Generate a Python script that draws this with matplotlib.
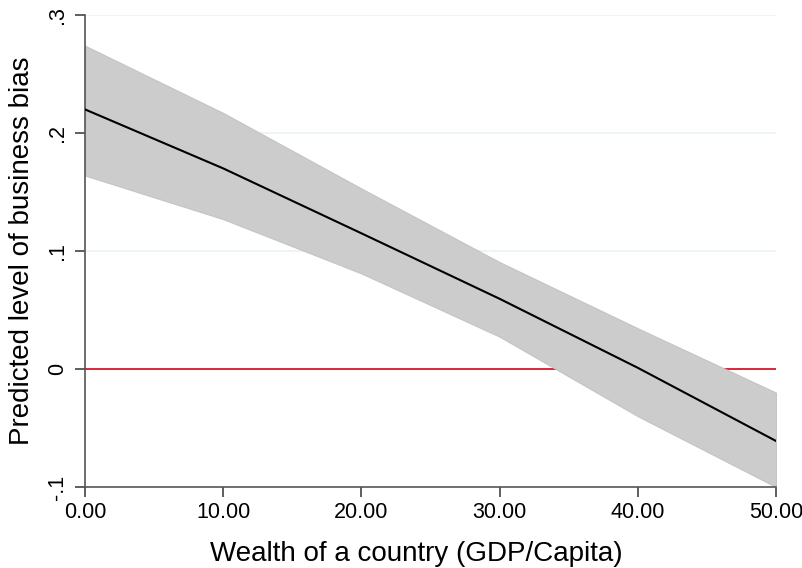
import matplotlib
matplotlib.use("Agg")
import matplotlib.pyplot as plt

plt.rcParams['font.family'] = ['Liberation Sans', 'DejaVu Sans']

# Predicted margins at GDP/capita values with 95% CI
gdp = [0, 10, 20, 30, 40, 50]
predicted = [0.220, 0.170, 0.115, 0.0595, 0.001, -0.061]
ci_upper = [0.274, 0.217, 0.153, 0.0906, 0.0345, -0.020]
ci_lower = [0.164, 0.127, 0.081, 0.0274, -0.040, -0.100]

x_ticks = [0, 10, 20, 30, 40, 50]
x_tick_labels = ["0.00", "10.00", "20.00", "30.00", "40.00", "50.00"]
y_ticks = [-0.1, 0, 0.1, 0.2, 0.3]
y_tick_labels = ["-.1", "0", ".1", ".2", ".3"]

fig = plt.figure(figsize=(8.03, 5.68), dpi=100)
ax = fig.add_axes([85 / 803, 1 - 487 / 568, (776 - 85) / 803, (487 - 15) / 568])

for yv in [0.1, 0.2, 0.3]:
    ax.axhline(yv, color="#eaf2f3", lw=1.2, zorder=0)

ax.axhline(0, color="#d62839", lw=1.4, zorder=1)
ax.fill_between(gdp, ci_lower, ci_upper, facecolor="#cccccc",
                edgecolor="#c4c4c4", lw=0.8, zorder=2)
ax.plot(gdp, predicted, color="black", lw=1.5, zorder=3)

ax.set_xlim(0, 50)
ax.set_ylim(-0.1, 0.3)
ax.set_xticks(x_ticks)
ax.set_xticklabels(x_tick_labels)
ax.set_yticks(y_ticks)
ax.set_yticklabels(y_tick_labels, rotation=90, va="center")

for side in ["top", "right"]:
    ax.spines[side].set_visible(False)
for side in ["left", "bottom"]:
    ax.spines[side].set_color("#555555")
    ax.spines[side].set_linewidth(1.2)

ax.tick_params(axis="both", direction="out", length=7, width=1.1,
               color="#333333", labelsize=15.5, labelcolor="black")
ax.tick_params(axis="x", pad=4)
ax.tick_params(axis="y", pad=5)

ax.set_xlabel("Wealth of a country (GDP/Capita)", fontsize=20)
ax.set_ylabel("Predicted level of business bias", fontsize=20)
ax.xaxis.set_label_coords(0.48, -0.115)
ax.yaxis.set_label_coords(-0.072, 0.5)

fig.savefig("out.png", dpi=100, facecolor="white")
